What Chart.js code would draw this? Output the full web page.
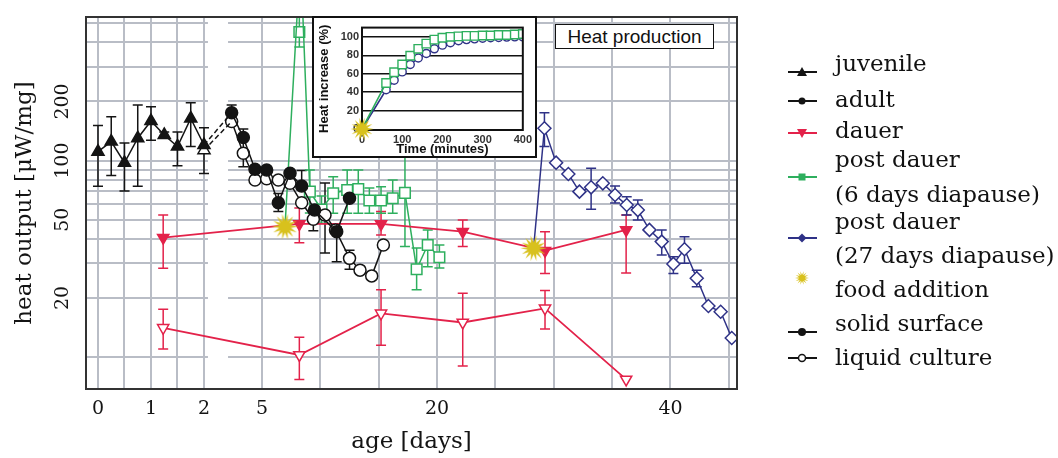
<!DOCTYPE html>
<html>
<head>
<meta charset="utf-8">
<script src="https://cdn.jsdelivr.net/npm/chart.js@4.4.0/dist/chart.umd.min.js"></script>
<style>
  html, body { margin: 0; padding: 0; background: #fff; }
  #wrap { position: relative; width: 1058px; height: 458px; overflow: hidden; }
  #main { position: absolute; left: 0; top: 0; }
  #inset { position: absolute; left: 312px; top: 16px; width: 221px; height: 138px; border: 2px solid #111; background: #fff; }
  #insetChart { display: block; }
  #heatBox { position: absolute; left: 555px; top: 24px; width: 157px; height: 23px; border: 1.5px solid #111; background: #fff;
             font: 19px "Liberation Sans", Arial, sans-serif; color: #111; text-align: center; line-height: 23px; }
  .leg { position: absolute; left: 835px; font: 23px "DejaVu Serif", serif; line-height: 34px; color: #111; white-space: nowrap; }
  .mk { position: absolute; left: 784px; }
</style>
</head>
<body>
<div id="wrap">
  <canvas id="main" width="1058" height="458"></canvas>
  <div id="inset"><canvas id="insetChart" width="221" height="138"></canvas></div>
  <div id="heatBox">Heat production</div>
  <div id="legend"></div>
</div>
<script>
// ages in days; ages up to 2.2 sit on the stretched juvenile part of the axis
const juvenileAge  = [0, 0.25, 0.5, 0.75, 1, 1.25, 1.5, 1.75, 2];
const juvenileHeat = [111, 125, 97.5, 130, 159, 135, 118, 164, 120];
const juvenileLow  = [74, 84, 70, 74, 127, 130, 94, 118, 86];
const juvenileHigh = [151, 167, 123, 192, 188, 140, 140, 197, 147];
const juvenileLiquidAge  = [2];
const juvenileLiquidHeat = [113];

const adultSolidAge  = [2.4, 3.4, 4.4, 5.4, 6.4, 7.4, 8.4, 9.5, 11.4, 12.5];
const adultSolidHeat = [175, 131, 90.3, 89.6, 61, 86.2, 74.3, 56, 43.5, 64.3];
const adultSolidLow  = [152, 93, null, null, 55, null, 71, null, 30.6, null];
const adultSolidHigh = [192, 145, null, null, 68, null, 89, null, 46.1, null];

const adultLiquidAge  = [2.4, 3.4, 4.4, 5.4, 6.4, 7.4, 8.4, 9.4, 10.4, 11.3, 12.5, 13.4, 14.4, 15.4];
const adultLiquidHeat = [158, 109, 79.6, 80.8, 79.6, 76.6, 61, 50.3, 52.9, 44.4, 31.8, 27.7, 25.9, 37.2];
const adultLiquidLow  = [null, null, null, null, null, null, null, 44, 33.9, null, 28, null, null, null];
const adultLiquidHigh = [null, null, null, null, null, null, null, 56, 77, null, 35, null, null, null];

const dauerAge  = [1.23, 8.2, 15.2, 22.2, 29.25, 36.2];
const dauerHeat = [40.5, 47.6, 47.6, 43.5, 34.8, 44.4];
const dauerLow  = [28.3, 38.2, 41.8, 36.5, 26.6, 26.8];
const dauerHigh = [52.9, 57.4, 55, 49.9, 43.5, 52.9];

const dauerLiquidAge  = [1.23, 8.2, 15.2, 22.2, 29.25, 36.2];
const dauerLiquidHeat = [14.1, 10.25, 16.7, 15.0, 17.7, 7.7];
const dauerLiquidLow  = [11.0, 7.7, 11.5, 9.0, 13.9, null];
const dauerLiquidHigh = [17.5, 12.6, 22.0, 21.1, 21.8, null];

const foodAge  = [6.97, 28.27];
const foodHeat = [46.1, 35.8];

// post dauer, 6 days diapause (first value is the peak above the frame)
const greenAge  = [8.3, 9.1, 10.1, 11.1, 12.3, 13.25, 14.2, 15.2, 16.2, 17.25, 18.25, 19.2, 20.2];
const greenHeat = [1100, 69.5, 56.4, 68.2, 70.8, 71.6, 62.7, 62.7, 64.3, 68.5, 28, 37.2, 32.2];
const greenLow  = [null, 54.1, 48, 54, 54, 54, 53.9, 54, 54, 36.5, 22, 28.8, 28.4];
const greenHigh = [null, 89.6, 66, 82.8, 89.6, 89.6, 72.5, 73.6, 79.6, 113, 35.9, 44.4, 37.2];
const greenTopAge  = [8.2];
const greenTopHeat = [451];
const greenTopLow  = [378];
const greenTopHigh = [600];

// post dauer, 27 days diapause
const blueAge  = [29.2, 30.2, 31.25, 32.2, 33.2, 34.2, 35.25, 36.25, 37.2, 38.2, 39.25, 40.25, 41.2, 42.25, 43.25, 44.3, 45.25];
const blueHeat = [146, 97.6, 85.5, 69.5, 73.1, 76.6, 66.8, 59.4, 56, 44.4, 38.7, 29.8, 35.4, 25.2, 18.2, 17.0, 12.5];
const blueLow  = [118, null, null, null, 56.5, null, 60.9, 52.9, 49.9, null, 33.1, 26.6, 30, 22.8, null, null, null];
const blueHigh = [175, null, null, null, 91.4, null, 74.3, 65.5, 63.1, null, 44.4, 32.4, 41, 27.7, null, null, null];

const xGridAges   = [0, 0.5, 1, 1.5, 2, 5, 10, 15, 20, 25, 30, 35, 40, 45];
const xLabelAges  = [0, 1, 2, 5, 20, 40];
const yGridValues = [10, 20, 30, 40, 50, 60, 70, 80, 90, 100, 200, 300, 400, 500];
const yLabelValues = [20, 50, 100, 200];

// inset: heat increase after food addition
const insetTime  = [0, 60, 80, 100, 120, 140, 160, 180, 200, 220, 240, 260, 280, 300, 320, 340, 360, 380, 400];
const insetGreen = [0, 50, 61.6, 70, 79.5, 87, 92.6, 97, 99, 100, 100.5, 101, 101, 101.5, 101.5, 102, 102, 102.5, 103];
const insetBlue  = [0, 42.6, 53, 62, 70, 77, 82, 87, 91, 93.6, 95.7, 97, 97.8, 98.5, 99, 99.3, 99.7, 100, 100];
const insetYTicks = [0, 20, 40, 60, 80, 100];

const BLACK = '#141414', RED = '#e3224a', GREEN = '#2eaf5e', NAVY = '#2f3287', STAR = '#d8c11d', GRID = '#b9bdc6';

// axis break: 0-2 days stretched, rest in plain days
const ageToAxis = a => a <= 2.2 ? -9.053 + 4.5416 * a : a;
const BREAK_FROM = 0.37, BREAK_TO = 2.09;

function makeStar(size) {
  const c = document.createElement('canvas');
  c.width = c.height = size;
  const g = c.getContext('2d');
  const r = size / 2, n = 14;
  g.beginPath();
  for (let i = 0; i < 2 * n; i++) {
    const rad = i % 2 ? r * 0.45 : r - 0.5;
    const ang = i * Math.PI / n;
    g.lineTo(r + rad * Math.cos(ang), r + rad * Math.sin(ang));
  }
  g.closePath();
  g.fillStyle = STAR;
  g.fill();
  return c;
}

function pts(ages, heats) {
  return ages.map((a, i) => ({ x: ageToAxis(a), y: heats[i] }));
}

function series(ages, heats, extra) {
  return Object.assign({
    data: pts(ages, heats),
    showLine: true,
    borderWidth: 1.5,
    pointBorderWidth: 1.5,
    tension: 0
  }, extra);
}

// error bars, break strip and frame
const decor = {
  id: 'decor',
  beforeDatasetsDraw(chart) {
    const { ctx, chartArea: a, scales: { x, y } } = chart;
    ctx.save();
    ctx.fillStyle = '#fff';
    const bx1 = x.getPixelForValue(BREAK_FROM), bx2 = x.getPixelForValue(BREAK_TO);
    ctx.fillRect(bx1, a.top + 1, bx2 - bx1, a.bottom - a.top - 2);
    ctx.beginPath();
    ctx.rect(a.left, a.top, a.right - a.left, a.bottom - a.top);
    ctx.clip();
    chart.data.datasets.forEach((ds, i) => {
      if (!ds.errLow) return;
      const meta = chart.getDatasetMeta(i);
      ctx.strokeStyle = ds.borderColor;
      ctx.lineWidth = 1.5;
      meta.data.forEach((p, j) => {
        const lo = ds.errLow[j], hi = ds.errHigh[j];
        if (lo == null) return;
        const y1 = y.getPixelForValue(lo), y2 = y.getPixelForValue(hi);
        ctx.beginPath();
        ctx.moveTo(p.x, y1); ctx.lineTo(p.x, y2);
        ctx.moveTo(p.x - 5, y1); ctx.lineTo(p.x + 5, y1);
        ctx.moveTo(p.x - 5, y2); ctx.lineTo(p.x + 5, y2);
        ctx.stroke();
      });
    });
    ctx.restore();
  },
  afterDraw(chart) {
    const { ctx, chartArea: a } = chart;
    ctx.save();
    ctx.strokeStyle = '#333';
    ctx.lineWidth = 2;
    ctx.strokeRect(a.left, a.top, a.right - a.left, a.bottom - a.top);
    ctx.restore();
  }
};

const bigStar = makeStar(27);

const datasets = [
  { data: pts(foodAge, foodHeat), pointStyle: bigStar, pointRadius: 13, showLine: false },
  series(juvenileAge, juvenileHeat, {
    borderColor: BLACK, pointStyle: 'triangle', pointRadius: 7, pointBackgroundColor: BLACK,
    errLow: juvenileLow, errHigh: juvenileHigh }),
  series(juvenileLiquidAge, juvenileLiquidHeat, {
    borderColor: BLACK, pointStyle: 'triangle', pointRadius: 7, pointBackgroundColor: '#fff' }),
  {
    data: [{ x: ageToAxis(juvenileAge[8]), y: juvenileHeat[8] }, { x: ageToAxis(adultSolidAge[0]), y: adultSolidHeat[0] }],
    showLine: true, borderColor: BLACK, borderWidth: 1.5, borderDash: [5, 3], pointRadius: 0
  },
  {
    data: [{ x: ageToAxis(juvenileLiquidAge[0]), y: juvenileLiquidHeat[0] }, { x: ageToAxis(adultLiquidAge[0]), y: adultLiquidHeat[0] }],
    showLine: true, borderColor: BLACK, borderWidth: 1.5, borderDash: [5, 3], pointRadius: 0
  },
  series(adultSolidAge, adultSolidHeat, {
    borderColor: BLACK, pointStyle: 'circle', pointRadius: 6, pointBackgroundColor: BLACK,
    errLow: adultSolidLow, errHigh: adultSolidHigh }),
  series(adultLiquidAge, adultLiquidHeat, {
    borderColor: BLACK, pointStyle: 'circle', pointRadius: 6, pointBackgroundColor: '#fff',
    errLow: adultLiquidLow, errHigh: adultLiquidHigh }),
  series(dauerAge, dauerHeat, {
    borderColor: RED, borderWidth: 1.8, pointStyle: 'triangle', rotation: 180, pointRadius: 6.5, pointBackgroundColor: RED,
    errLow: dauerLow, errHigh: dauerHigh }),
  series(dauerLiquidAge, dauerLiquidHeat, {
    borderColor: RED, borderWidth: 1.8, pointStyle: 'triangle', rotation: 180, pointRadius: 6.5, pointBackgroundColor: '#fff',
    errLow: dauerLiquidLow, errHigh: dauerLiquidHigh }),
  {
    data: [{ x: ageToAxis(foodAge[0]), y: foodHeat[0] }].concat(pts(greenAge, greenHeat)),
    showLine: true, borderColor: GREEN, borderWidth: 1.5, pointBorderWidth: 1.5,
    pointStyle: 'rect', pointRadius: [0, 0].concat(greenAge.slice(1).map(() => 7.5)), pointBackgroundColor: '#fff',
    errLow: [null].concat(greenLow), errHigh: [null].concat(greenHigh)
  },
  series(greenTopAge, greenTopHeat, {
    showLine: false, borderColor: GREEN, pointStyle: 'rect', pointRadius: 7.5, pointBackgroundColor: '#fff',
    errLow: greenTopLow, errHigh: greenTopHigh }),
  {
    data: [{ x: ageToAxis(foodAge[1]), y: foodHeat[1] }].concat(pts(blueAge, blueHeat)),
    showLine: true, borderColor: NAVY, borderWidth: 1.5, pointBorderWidth: 1.5,
    pointStyle: 'rectRot', pointRadius: [0].concat(blueAge.map(() => 6.5)), pointBackgroundColor: '#fff',
    errLow: [null].concat(blueLow), errHigh: [null].concat(blueHigh)
  }
];

Chart.defaults.font.family = '"DejaVu Serif", serif';
Chart.defaults.color = BLACK;

new Chart(document.getElementById('main'), {
  type: 'scatter',
  data: { datasets: datasets },
  options: {
    responsive: false,
    animation: false,
    devicePixelRatio: 1,
    layout: { padding: { left: 0, right: 321, top: 17, bottom: 0 } },
    plugins: { legend: { display: false }, tooltip: { enabled: false } },
    scales: {
      x: {
        type: 'linear',
        min: -10.08,
        max: 45.7,
        afterBuildTicks: s => { s.ticks = xGridAges.map(a => ({ value: ageToAxis(a) })); },
        afterFit: s => { s.height = 69; },
        ticks: {
          autoSkip: false, maxRotation: 0, padding: 9,
          font: { size: 19 },
          callback: (v, i) => xLabelAges.includes(xGridAges[i]) ? String(xGridAges[i]) : ''
        },
        grid: { color: GRID, lineWidth: 2, drawTicks: false },
        border: { display: false },
        title: { display: true, text: 'age [days]', font: { size: 23, lineHeight: 1.2 }, padding: { top: 0, bottom: 2 } }
      },
      y: {
        type: 'logarithmic',
        min: 6.88,
        max: 538,
        afterBuildTicks: s => { s.ticks = yGridValues.map(v => ({ value: v })); },
        afterFit: s => { s.width = 86; },
        ticks: {
          autoSkip: false, minRotation: 90, maxRotation: 90, crossAlign: 'center', padding: 5,
          font: { size: 19 },
          callback: (v, i) => yLabelValues.includes(yGridValues[i]) ? String(yGridValues[i]) : ''
        },
        grid: { color: GRID, lineWidth: 2, drawTicks: false },
        border: { display: false },
        title: { display: true, text: 'heat output [μW/mg]', font: { size: 23, lineHeight: 1.2 }, padding: { top: 11, bottom: 0 } }
      }
    }
  },
  plugins: [decor]
});

// inset chart
const smallStar = makeStar(24);
const sansBold = { family: '"Liberation Sans", Arial, sans-serif', weight: 'bold' };

new Chart(document.getElementById('insetChart'), {
  type: 'scatter',
  data: {
    datasets: [
      { data: [{ x: insetTime[0], y: insetGreen[0] }], pointRadius: 0, showLine: false },
      {
        data: insetTime.map((t, i) => ({ x: t, y: insetGreen[i] })),
        showLine: true, borderColor: GREEN, borderWidth: 1.6, pointBorderWidth: 1.4,
        pointStyle: 'rect', pointRadius: insetTime.map(t => t === 0 ? 0 : 6), pointBackgroundColor: '#fff'
      },
      {
        data: insetTime.map((t, i) => ({ x: t, y: insetBlue[i] })),
        showLine: true, borderColor: NAVY, borderWidth: 1.6, pointBorderWidth: 1.4,
        pointStyle: 'circle', pointRadius: insetTime.map(t => t === 0 ? 0 : 4), pointBackgroundColor: '#fff'
      }
    ]
  },
  options: {
    responsive: false,
    animation: false,
    devicePixelRatio: 1,
    layout: { padding: { left: 0, right: 8, top: 5, bottom: 0 } },
    plugins: { legend: { display: false }, tooltip: { enabled: false } },
    scales: {
      x: {
        type: 'linear', min: 0, max: 400,
        afterFit: s => { s.height = 26; },
        ticks: { stepSize: 100, padding: 3, maxRotation: 0, color: '#333', font: Object.assign({ size: 11 }, sansBold) },
        grid: { display: false, drawTicks: false },
        border: { display: false },
        title: { display: true, text: 'Time (minutes)', color: '#111', font: Object.assign({ size: 13, lineHeight: 1 }, sansBold), padding: { top: 0, bottom: 0 } }
      },
      y: {
        type: 'linear', min: -1, max: 110,
        afterBuildTicks: s => { s.ticks = insetYTicks.map(v => ({ value: v })); },
        afterFit: s => { s.width = 48; },
        ticks: { padding: 3, color: '#333', font: Object.assign({ size: 11 }, sansBold) },
        grid: { color: c => c.tick && c.tick.value === 0 ? 'rgba(0,0,0,0)' : '#111', lineWidth: 1.5, drawTicks: false },
        border: { display: false },
        title: { display: true, text: 'Heat increase (%)', color: '#111', font: Object.assign({ size: 13, lineHeight: 1.2 }, sansBold), padding: { top: 3, bottom: 0 } }
      }
    }
  },
  plugins: [{
    id: 'insetFrame',
    afterDraw(chart) {
      const { ctx, chartArea: a } = chart;
      ctx.save();
      ctx.strokeStyle = '#111';
      ctx.lineWidth = 2;
      ctx.strokeRect(a.left, a.top, a.right - a.left, a.bottom - a.top);
      // food addition star at the origin, over the frame
      const p = chart.getDatasetMeta(0).data[0];
      ctx.drawImage(smallStar, p.x - 12, p.y - 12);
      ctx.restore();
    }
  }]
});

// legend
const legendLines = [
  ['juvenile', 70.7], ['adult', 106.7], ['dauer', 138.3],
  ['post dauer', 166.7], ['(6 days diapause)', 201.7],
  ['post dauer', 229.3], ['(27 days diapause)', 263.3],
  ['food addition', 296.7], ['solid surface', 331], ['liquid culture', 365]
];
const legendMarks = [
  ['tri', 72], ['dot', 101], ['dauer', 133], ['green', 177], ['blue', 238],
  ['star', 278], ['solid', 332], ['liquid', 358]
];

function markSvg(kind, y) {
  const cx = 18, cy = 9;
  const colors = { tri: BLACK, dot: BLACK, dauer: RED, green: GREEN, blue: NAVY, solid: BLACK, liquid: BLACK };
  const col = colors[kind];
  let body = '';
  if (kind !== 'star') body += `<line x1="4" y1="${cy}" x2="33" y2="${cy}" stroke="${col}" stroke-width="2"/>`;
  if (kind === 'tri') body += `<polygon points="${cx},${cy - 5} ${cx + 5},${cy + 4} ${cx - 5},${cy + 4}" fill="${col}"/>`;
  if (kind === 'dot') body += `<circle cx="${cx}" cy="${cy}" r="3.5" fill="${col}"/>`;
  if (kind === 'dauer') body += `<polygon points="${cx},${cy + 5} ${cx + 5},${cy - 4} ${cx - 5},${cy - 4}" fill="${col}"/>`;
  if (kind === 'green') body += `<rect x="${cx - 3.5}" y="${cy - 3.5}" width="7" height="7" fill="${col}"/>`;
  if (kind === 'blue') body += `<polygon points="${cx},${cy - 4.5} ${cx + 4.5},${cy} ${cx},${cy + 4.5} ${cx - 4.5},${cy}" fill="${col}"/>`;
  if (kind === 'solid') body += `<circle cx="${cx}" cy="${cy}" r="4" fill="${col}"/>`;
  if (kind === 'liquid') body += `<circle cx="${cx}" cy="${cy}" r="3.5" fill="#fff" stroke="${col}" stroke-width="1.5"/>`;
  if (kind === 'star') {
    let p = [];
    for (let i = 0; i < 28; i++) {
      const r = i % 2 ? 3 : 7;
      const a = i * Math.PI / 14;
      p.push((cx + r * Math.cos(a)).toFixed(1) + ',' + (cy + r * Math.sin(a)).toFixed(1));
    }
    body += `<polygon points="${p.join(' ')}" fill="${STAR}"/>`;
  }
  return `<svg class="mk" style="top:${y - 9}px" width="36" height="18">${body}</svg>`;
}

const legend = document.getElementById('legend');
let html = '';
legendLines.forEach(([text, base]) => {
  html += `<div class="leg" style="top:${(base - 24.9).toFixed(1)}px">${text}</div>`;
});
legendMarks.forEach(([kind, y]) => { html += markSvg(kind, y); });
legend.innerHTML = html;
</script>
</body>
</html>
